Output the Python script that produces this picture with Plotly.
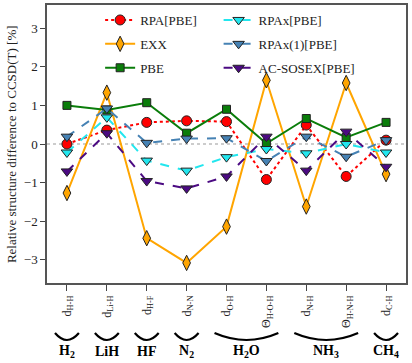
import plotly.graph_objects as go

# x categories (bond lengths / angles)
tick_labels = ["d<sub>H-H</sub>", "d<sub>Li-H</sub>", "d<sub>H-F</sub>", "d<sub>N-N</sub>",
               "d<sub>O-H</sub>", "Θ<sub>H-O-H</sub>", "d<sub>N-H</sub>", "Θ<sub>H-N-H</sub>",
               "d<sub>C-H</sub>"]
xpos = list(range(len(tick_labels)))

# molecules and which categories they span (first, last index)
molecules = ["H<sub>2</sub>", "LiH", "HF", "N<sub>2</sub>", "H<sub>2</sub>O", "NH<sub>3</sub>", "CH<sub>4</sub>"]
mol_span = [(0, 0), (1, 1), (2, 2), (3, 3), (4, 5), (6, 7), (8, 8)]

rpa_pbe = [0.0, 0.36, 0.56, 0.6, 0.58, -0.92, 0.49, -0.84, 0.1]
exx = [-1.27, 1.33, -2.44, -3.08, -2.14, 1.65, -1.62, 1.58, -0.78]
pbe = [1.0, 0.88, 1.07, 0.28, 0.9, 0.01, 0.66, 0.17, 0.56]
rpax_pbe = [-0.22, 0.69, -0.43, -0.69, -0.34, -0.13, -0.24, 0.0, -0.22]
rpax1_pbe = [0.19, 0.92, 0.03, 0.14, 0.15, -0.44, 0.19, -0.33, 0.1]
acsosex_pbe = [-0.71, 0.28, -0.96, -1.15, -0.84, 0.19, -0.69, 0.32, -0.59]

series = [
    ("RPA[PBE]", rpa_pbe, "#ff0000", "dot", "circle", 10, "legend"),
    ("EXX", exx, "#ffa500", "solid", "diamond-tall", 11, "legend"),
    ("PBE", pbe, "#0a7d0a", "solid", "square", 8, "legend"),
    ("RPAx[PBE]", rpax_pbe, "#22e6ee", "dash", "triangle-down", 10, "legend2"),
    ("RPAx(1)[PBE]", rpax1_pbe, "#4682b4", "dash", "triangle-down", 10, "legend2"),
    ("AC-SOSEX[PBE]", acsosex_pbe, "#4b0a82", "dash", "triangle-down", 10, "legend2"),
]

font = "Liberation Serif"
fig = go.Figure()

for name, vals, col, dash, sym, size, leg in series:
    fig.add_trace(go.Scatter(
        x=xpos, y=vals, name=name, mode="lines+markers",
        line=dict(color=col, width=2, dash=dash),
        marker=dict(symbol=sym, size=size, color=col, line=dict(color="#222", width=1)),
        legend=leg, legendgroup=name,
    ))

# zero reference line
fig.add_hline(y=0, line=dict(color="#999", width=1.2, dash="dot"), layer="below")

# braces + molecule names below the tick labels
for mol, (a, b) in zip(molecules, mol_span):
    x0, x1 = a - 0.3, b + 0.3
    xm = (a + b) / 2
    fig.add_shape(type="path", xref="x", yref="paper",
                  path=f"M {x0},-0.18 Q {xm},-0.23 {x1},-0.18",
                  line=dict(color="black", width=2.2))
    fig.add_annotation(x=xm, y=-0.245, xref="x", yref="paper", text=f"<b>{mol}</b>",
                       showarrow=False, yanchor="middle",
                       font=dict(family=font, size=14, color="black"))

# y title as annotation so it sits at the left edge
fig.add_annotation(x=-0.1, y=0.5, xref="paper", yref="paper", textangle=-90,
                   text="Relative structure difference to CCSD(T) [%]", showarrow=False,
                   xanchor="center", yanchor="middle", font=dict(family=font, size=13, color="#222"))

fig.update_layout(
    width=412, height=363,
    margin=dict(l=47, r=6, t=5, b=80),
    paper_bgcolor="white", plot_bgcolor="white",
    font=dict(family=font, size=13, color="#222"),
    showlegend=True,
    legend=dict(x=0.148, y=1.0, xanchor="left", yanchor="top", bgcolor="rgba(0,0,0,0)",
                tracegroupgap=4, font=dict(size=13)),
    legend2=dict(x=0.478, y=1.0, xanchor="left", yanchor="top", bgcolor="rgba(0,0,0,0)",
                 tracegroupgap=4, font=dict(size=13)),
)
fig.update_xaxes(range=[-0.5, 8.5], tickvals=xpos, ticktext=tick_labels, tickangle=-90,
                 ticks="outside", ticklen=6, tickcolor="#444", showgrid=False, zeroline=False,
                 showline=True, linecolor="#555", linewidth=1.5, mirror=True, automargin=False,
                 tickfont=dict(size=12, color="#222"))
fig.update_yaxes(range=[-3.6, 3.6], tickvals=[-3, -2, -1, 0, 1, 2, 3], ticks="outside",
                 ticklen=5, tickcolor="#444", showgrid=False, zeroline=False,
                 showline=True, linecolor="#555", linewidth=1.5, mirror=True, automargin=False,
                 tickfont=dict(size=13, color="#222"))

fig.write_html("out.html", config={"displayModeBar": False},
               post_script="document.body.style.margin='0';")
